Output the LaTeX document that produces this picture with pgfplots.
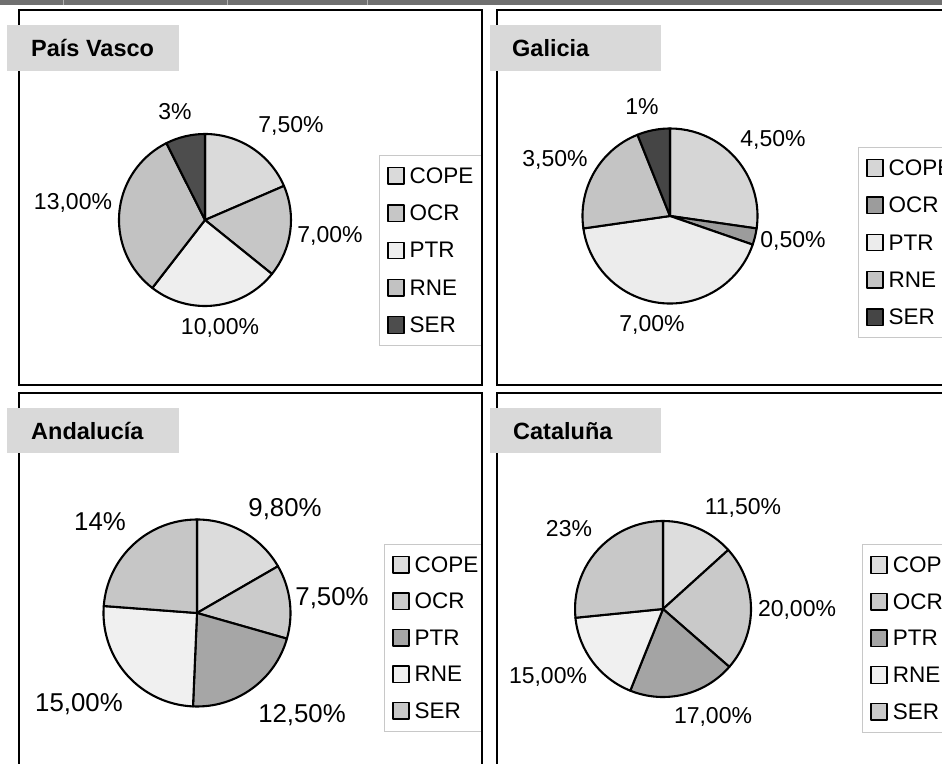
\documentclass[border=0pt]{standalone}
\usepackage{fontspec}
\setmainfont{Liberation Sans}
\usepackage{pgfplots}
\pgfplotsset{compat=1.18}

\definecolor{topbar}{HTML}{707070}
\definecolor{titlebg}{HTML}{D9D9D9}
\definecolor{legframe}{HTML}{C8C8C8}
% slice fills, one set per region
\definecolor{pvCOPE}{HTML}{DADADA}\definecolor{pvOCR}{HTML}{C6C6C6}
\definecolor{pvPTR}{HTML}{EEEEEE}\definecolor{pvRNE}{HTML}{C2C2C2}
\definecolor{pvSER}{HTML}{4D4D4D}
\definecolor{gaCOPE}{HTML}{D6D6D6}\definecolor{gaOCR}{HTML}{9C9C9C}
\definecolor{gaPTR}{HTML}{ECECEC}\definecolor{gaRNE}{HTML}{C4C4C4}
\definecolor{gaSER}{HTML}{454545}
\definecolor{anCOPE}{HTML}{DCDCDC}\definecolor{anOCR}{HTML}{CBCBCB}
\definecolor{anPTR}{HTML}{A6A6A6}\definecolor{anRNE}{HTML}{F0F0F0}
\definecolor{anSER}{HTML}{C6C6C6}
\definecolor{caCOPE}{HTML}{DDDDDD}\definecolor{caOCR}{HTML}{C9C9C9}
\definecolor{caPTR}{HTML}{A4A4A4}\definecolor{caRNE}{HTML}{F0F0F0}
\definecolor{caSER}{HTML}{C8C8C8}

\newcommand\lbl{\fontsize{23}{23}\selectfont}
\newcommand\lblbig{\fontsize{25.8}{25.8}\selectfont}
\newcommand\ttl{\fontsize{23.5}{23.5}\selectfont\bfseries}

\pgfplotsset{
  pie/.style={
    scale only axis, width=#1, height=#1,
    xmin=-1, xmax=1, ymin=-1, ymax=1,
    hide axis, clip=false, anchor=origin,
    legend cell align=left,
    legend image code/.code={\draw[##1,/tikz/.cd,line width=1.3pt,draw=black]
      (0pt,-9pt) rectangle (16pt,7.5pt);},
    legend style={draw=legframe, line width=0.8pt, fill=white,
      font=\fontsize{22.5}{22.5}\selectfont,
      inner xsep=8pt, inner ysep=11.5pt, anchor=north west, row sep=19.4pt,
      nodes={inner sep=0pt, text height=16.5pt, text depth=0pt},
      /tikz/every odd column/.append style={column sep=5pt}},
  },
  slice/.style={draw=black, line width=2.1pt, line join=round},
}

% one slice: value, fill, legend text; clockwise from 12 o'clock
\newcommand\pieslice[3]{%
  \pgfmathsetmacro\pieend{\piestart-#1*360/\pietotal}%
  \pgfmathsetmacro\px{cos(\piestart)}%
  \pgfmathsetmacro\py{sin(\piestart)}%
  \edef\doslice{\noexpand\addplot[slice,fill=#2] coordinates {(0,0)}
    -- (axis cs:\px,\py) arc[start angle=\piestart,end angle=\pieend,radius=\pieR] -- cycle;}%
  \doslice
  \addlegendentry{#3}%
  \global\let\piestart\pieend
}

\begin{document}
\begin{tikzpicture}[x=1pt,y=1pt]
\path[use as bounding box] (0,0) rectangle (942,763);
\clip (0,0) rectangle (942,763);

\fill[topbar] (0,757.5) rectangle (942,763);
\foreach \t in {63,227,367}
  \draw[gray!60, line width=1pt] (\t,757.5) -- (\t,763);

% ---------- País Vasco ----------
\begin{scope}
\clip (20,752) rectangle (481,379);
\def\pietotal{40.5}\def\pieR{86pt}\gdef\piestart{90}
\begin{axis}[pie=172pt, at={(205pt,543pt)},
  legend style={at={(axis description cs:1.5116,0.878)}}]
\pieslice{7.5}{pvCOPE}{COPE}
\pieslice{7}{pvOCR}{OCR}
\pieslice{10}{pvPTR}{PTR}
\pieslice{13}{pvRNE}{RNE}
\pieslice{3}{pvSER}{SER}
\end{axis}
\end{scope}
\begin{scope}[every node/.style={anchor=base, inner sep=0pt, font=\lbl}]
\node at (175,643) {3\%};
\node at (291,630) {7,50\%};
\node at (73,553) {13,00\%};
\node at (330,520) {7,00\%};
\node at (220,428) {10,00\%};
\end{scope}
\draw[line width=2pt] (19,753) rectangle (482,378);
\fill[titlebg] (7,738) rectangle (179,692);
\node[anchor=base west, inner sep=0pt] at (31,706) {\ttl País Vasco};

% ---------- Galicia ----------
\begin{scope}
\clip (498,752) rectangle (990,379);
\def\pietotal{16.5}\def\pieR{87.5pt}\gdef\piestart{90}
\begin{axis}[pie=175pt, at={(670pt,547pt)},
  legend style={at={(axis description cs:1.574,0.894)}}]
\pieslice{4.5}{gaCOPE}{COPE}
\pieslice{0.5}{gaOCR}{OCR}
\pieslice{7}{gaPTR}{PTR}
\pieslice{3.5}{gaRNE}{RNE}
\pieslice{1}{gaSER}{SER}
\end{axis}
\end{scope}
\begin{scope}[every node/.style={anchor=base, inner sep=0pt, font=\lbl}]
\node at (642,648) {1\%};
\node at (773,616) {4,50\%};
\node at (555,596) {3,50\%};
\node at (793,515) {0,50\%};
\node at (652,431) {7,00\%};
\end{scope}
\draw[line width=2pt] (497,753) rectangle (990,378);
\fill[titlebg] (490,738) rectangle (661,692);
\node[anchor=base west, inner sep=0pt] at (512,706) {\ttl Galicia};

% ---------- Andalucía ----------
\begin{scope}
\clip (20,369) rectangle (481,-20);
\def\pietotal{58.8}\def\pieR{93.5pt}\gdef\piestart{90}
\begin{axis}[pie=187pt, at={(197pt,150pt)},
  legend style={at={(axis description cs:1.5,0.869)}, row sep=18.6pt}]
\pieslice{9.8}{anCOPE}{COPE}
\pieslice{7.5}{anOCR}{OCR}
\pieslice{12.5}{anPTR}{PTR}
\pieslice{15}{anRNE}{RNE}
\pieslice{14}{anSER}{SER}
\end{axis}
\end{scope}
\begin{scope}[every node/.style={anchor=base, inner sep=0pt, font=\lblbig}]
\node at (285,246) {9,80\%};
\node at (100,232) {14\%};
\node at (332,157) {7,50\%};
\node at (79,52) {15,00\%};
\node at (302,41) {12,50\%};
\end{scope}
\draw[line width=2pt] (19,370) rectangle (482,-20);
\fill[titlebg] (7,355) rectangle (179,310);
\node[anchor=base west, inner sep=0pt] at (31,323) {\ttl Andalucía};

% ---------- Cataluña ----------
\begin{scope}
\clip (498,369) rectangle (990,-20);
\def\pietotal{86.5}\def\pieR{88pt}\gdef\piestart{90}
\begin{axis}[pie=176pt, at={(663pt,154pt)},
  legend style={at={(axis description cs:1.631,0.869)}, row sep=18.8pt}]
\pieslice{11.5}{caCOPE}{COPE}
\pieslice{20}{caOCR}{OCR}
\pieslice{17}{caPTR}{PTR}
\pieslice{15}{caRNE}{RNE}
\pieslice{23}{caSER}{SER}
\end{axis}
\end{scope}
\begin{scope}[every node/.style={anchor=base, inner sep=0pt, font=\lbl}]
\node at (743,248) {11,50\%};
\node at (569,226) {23\%};
\node at (797,146) {20,00\%};
\node at (548,80) {15,00\%};
\node at (713,40) {17,00\%};
\end{scope}
\draw[line width=2pt] (497,370) rectangle (990,-20);
\fill[titlebg] (490,355) rectangle (661,310);
\node[anchor=base west, inner sep=0pt] at (513,323) {\ttl Cataluña};
\end{tikzpicture}
\end{document}
